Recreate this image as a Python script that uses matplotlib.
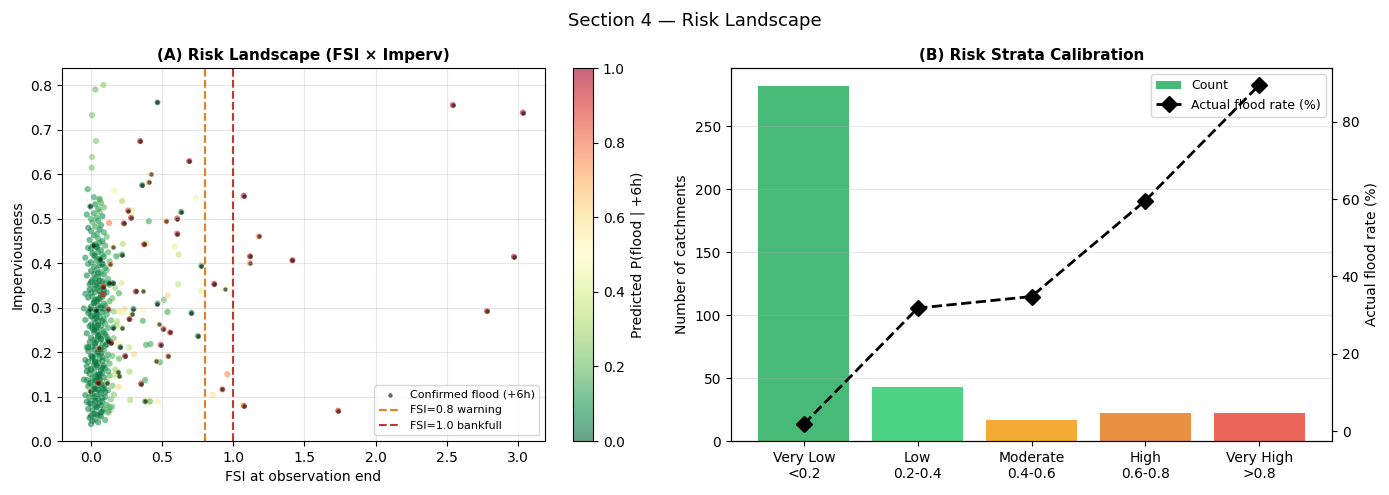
import numpy as np
import matplotlib
matplotlib.use("Agg")
import matplotlib.pyplot as plt

# ---- panel A: dense low-FSI cluster (no confirmed flood) ----
cluster_fsi = [
    0.00, 0.05, -0.01, 0.03, 0.07, 0.10, 0.02, 0.06, 0.12, 0.08,
    -0.02, 0.01, 0.04, 0.09, 0.13, 0.00, 0.03, 0.06, 0.11, -0.03,
    0.02, 0.05, 0.08, 0.14, -0.01, -0.04, 0.01, 0.04, 0.07, 0.10,
    0.16, 0.00, 0.03, 0.06, 0.12, 0.09, -0.02, 0.02, 0.05, 0.08,
    0.15, 0.00, 0.04, 0.07, 0.11, -0.03, 0.01, 0.03, 0.06, 0.09,
    0.13, -0.05, -0.01, 0.02, 0.05, 0.08, 0.12, 0.00, 0.04, 0.07,
    0.10, -0.03, 0.17, 0.02, 0.05, 0.09, 0.13, -0.02, -0.04, 0.01,
    0.03, 0.06, 0.11, 0.00, 0.04, 0.08, 0.12, 0.15, -0.02, 0.02,
    0.05, 0.09, 0.07, 0.01, 0.03, 0.06, 0.10, -0.03, -0.01, 0.04,
    0.08, 0.13, 0.02, 0.00, 0.05, 0.07, 0.11, 0.16, -0.03, 0.02,
    0.06, 0.09, 0.01, 0.04, 0.08, 0.12, -0.01, 0.00, 0.03, 0.07,
    0.10, 0.18, -0.04, 0.02, 0.05, 0.09, 0.14, 0.01, 0.04, 0.06,
    0.11, -0.02, -0.01, 0.03, 0.08, 0.12, 0.16, 0.00, 0.05, 0.07,
    0.10, -0.05, 0.02, 0.04, 0.09, 0.13, -0.02, 0.01, 0.06, 0.08,
    0.15, 0.00, 0.03, 0.07, 0.11, -0.04, 0.02, 0.05, 0.09, 0.17,
    -0.01, 0.04, 0.06, 0.10, 0.13, 0.01, 0.03, 0.08, 0.12, -0.03,
    0.02, 0.05, 0.09, 0.00, 0.04, 0.07, 0.11, 0.02, 0.06, 0.10,
    -0.02, 0.00, 0.04, 0.08, 0.13, -0.04, 0.03, 0.06, 0.09, 0.01,
    0.05, 0.08, 0.12, 0.00, 0.04, 0.07, -0.02, 0.03, 0.06, 0.10,
    -0.01, 0.05, 0.08, 0.02, 0.04, 0.11, 0.00, 0.06, 0.09, 0.03,
    0.07, -0.02, 0.01, 0.05, 0.04, 0.08, 0.00, 0.02, 0.06, -0.03,
    0.05, 0.09, 0.03, 0.07, 0.06, 0.02,
    0.01, 0.04, 0.07, -0.01, 0.02, 0.05, 0.09, 0.03, 0.06, 0.00,
    0.04, 0.08, 0.01, 0.05, -0.02, 0.03, 0.07, 0.10, 0.02, 0.05,
    0.08, 0.00, 0.04, 0.07, 0.02, 0.05, 0.09, -0.01, 0.03, 0.06,
    0.00, 0.04, 0.08, 0.02, 0.06, -0.03, 0.03, 0.07, 0.11, 0.05,
    0.01, 0.04, 0.09, 0.03, 0.06, 0.00, 0.05, 0.08, 0.02, 0.04,
    0.07, 0.03, 0.10, -0.01, 0.05, 0.08, 0.01, 0.06, 0.12, 0.04,
]
cluster_imperv = [
    0.038, 0.042, 0.052, 0.049, 0.055, 0.047, 0.061, 0.058, 0.064, 0.066,
    0.072, 0.069, 0.075, 0.071, 0.068, 0.083, 0.079, 0.086, 0.081, 0.088,
    0.092, 0.095, 0.089, 0.094, 0.098, 0.103, 0.106, 0.101, 0.108, 0.099,
    0.104, 0.112, 0.116, 0.109, 0.114, 0.118, 0.123, 0.121, 0.126, 0.119,
    0.124, 0.131, 0.135, 0.128, 0.133, 0.137, 0.142, 0.145, 0.139, 0.143,
    0.147, 0.138, 0.151, 0.155, 0.149, 0.153, 0.157, 0.162, 0.166, 0.159,
    0.164, 0.168, 0.161, 0.172, 0.175, 0.169, 0.174, 0.178, 0.182, 0.185,
    0.179, 0.186, 0.183, 0.192, 0.195, 0.189, 0.194, 0.191, 0.202, 0.205,
    0.199, 0.203, 0.208, 0.212, 0.215, 0.209, 0.214, 0.211, 0.222, 0.225,
    0.218, 0.224, 0.227, 0.232, 0.235, 0.229, 0.234, 0.231, 0.242, 0.245,
    0.239, 0.244, 0.252, 0.255, 0.249, 0.254, 0.258, 0.262, 0.265, 0.259,
    0.264, 0.261, 0.272, 0.275, 0.269, 0.274, 0.271, 0.282, 0.285, 0.279,
    0.284, 0.288, 0.292, 0.295, 0.289, 0.294, 0.291, 0.302, 0.305, 0.299,
    0.304, 0.298, 0.312, 0.315, 0.309, 0.314, 0.322, 0.325, 0.319, 0.324,
    0.321, 0.332, 0.335, 0.329, 0.334, 0.331, 0.342, 0.345, 0.339, 0.344,
    0.352, 0.355, 0.349, 0.354, 0.351, 0.362, 0.365, 0.359, 0.364, 0.372,
    0.375, 0.369, 0.374, 0.382, 0.385, 0.379, 0.384, 0.392, 0.395, 0.389,
    0.398, 0.402, 0.405, 0.399, 0.404, 0.412, 0.415, 0.409, 0.414, 0.422,
    0.425, 0.419, 0.424, 0.432, 0.435, 0.429, 0.434, 0.442, 0.445, 0.439,
    0.452, 0.455, 0.449, 0.462, 0.465, 0.459, 0.472, 0.475, 0.469, 0.482,
    0.485, 0.479, 0.492, 0.495, 0.502, 0.505, 0.499, 0.512, 0.515, 0.509,
    0.522, 0.525, 0.532, 0.535, 0.542, 0.548,
    0.045, 0.060, 0.080, 0.085, 0.100, 0.115, 0.125, 0.135, 0.150, 0.160,
    0.170, 0.180, 0.190, 0.200, 0.210, 0.220, 0.230, 0.240, 0.250, 0.260,
    0.270, 0.280, 0.290, 0.300, 0.310, 0.320, 0.330, 0.340, 0.350, 0.360,
    0.057, 0.077, 0.097, 0.117, 0.137, 0.157, 0.177, 0.197, 0.217, 0.237,
    0.257, 0.277, 0.297, 0.317, 0.337, 0.357, 0.377, 0.397, 0.417, 0.437,
    0.065, 0.090, 0.110, 0.130, 0.145, 0.165, 0.188, 0.207, 0.228, 0.248,
]
cluster_prob = [
    0.05, 0.08, 0.04, 0.10, 0.06, 0.12, 0.03, 0.07, 0.15, 0.09,
    0.06, 0.04, 0.09, 0.11, 0.18, 0.05, 0.08, 0.03, 0.13, 0.07,
    0.10, 0.05, 0.07, 0.22, 0.04, 0.06, 0.09, 0.03, 0.12, 0.08,
    0.25, 0.05, 0.07, 0.10, 0.14, 0.06, 0.08, 0.04, 0.11, 0.06,
    0.20, 0.07, 0.05, 0.09, 0.13, 0.06, 0.04, 0.08, 0.10, 0.05,
    0.16, 0.09, 0.06, 0.11, 0.04, 0.07, 0.12, 0.05, 0.08, 0.03,
    0.10, 0.07, 0.28, 0.06, 0.09, 0.05, 0.15, 0.08, 0.06, 0.04,
    0.07, 0.10, 0.13, 0.05, 0.08, 0.06, 0.11, 0.19, 0.07, 0.04,
    0.09, 0.12, 0.05, 0.06, 0.10, 0.04, 0.08, 0.11, 0.05, 0.07,
    0.06, 0.14, 0.08, 0.05, 0.09, 0.03, 0.12, 0.21, 0.06, 0.08,
    0.05, 0.10, 0.07, 0.04, 0.11, 0.13, 0.06, 0.08, 0.05, 0.09,
    0.12, 0.30, 0.07, 0.05, 0.08, 0.10, 0.17, 0.06, 0.04, 0.09,
    0.13, 0.06, 0.05, 0.09, 0.07, 0.11, 0.24, 0.08, 0.04, 0.10,
    0.12, 0.07, 0.05, 0.08, 0.10, 0.15, 0.06, 0.09, 0.04, 0.07,
    0.20, 0.06, 0.09, 0.05, 0.12, 0.08, 0.07, 0.10, 0.04, 0.27,
    0.07, 0.05, 0.09, 0.11, 0.16, 0.06, 0.08, 0.04, 0.14, 0.07,
    0.06, 0.10, 0.08, 0.05, 0.09, 0.12, 0.15, 0.07, 0.04, 0.11,
    0.08, 0.06, 0.10, 0.07, 0.18, 0.09, 0.05, 0.11, 0.08, 0.06,
    0.09, 0.12, 0.16, 0.07, 0.05, 0.10, 0.08, 0.06, 0.11, 0.13,
    0.08, 0.12, 0.07, 0.10, 0.14, 0.18, 0.09, 0.06, 0.11, 0.13,
    0.10, 0.07, 0.15, 0.09, 0.12, 0.08, 0.14, 0.11, 0.17, 0.10,
    0.13, 0.18, 0.09, 0.15, 0.20, 0.12,
    0.03, 0.02, 0.04, 0.03, 0.05, 0.02, 0.04, 0.03, 0.02, 0.04,
    0.03, 0.05, 0.02, 0.04, 0.03, 0.02, 0.04, 0.06, 0.03, 0.02,
    0.04, 0.03, 0.02, 0.05, 0.03, 0.04, 0.02, 0.03, 0.05, 0.02,
    0.02, 0.04, 0.03, 0.02, 0.05, 0.03, 0.02, 0.04, 0.06, 0.03,
    0.03, 0.02, 0.05, 0.04, 0.02, 0.03, 0.04, 0.02, 0.05, 0.03,
    0.02, 0.04, 0.03, 0.05, 0.02, 0.03, 0.04, 0.02, 0.06, 0.03,
]

# ---- panel A: scattered catchments (no confirmed flood) ----
spread_fsi = [
    0.03, 0.087, 0.007, 0.035, 0.007, 0.005, -0.023, 0.164, 0.218, 0.737,
    0.06, 0.285, 0.127, 0.406, 0.39, 0.223, 0.587, 0.615, 0.178, 0.214,
    0.197, 0.613, 0.775, 0.54, 0.512, 0.537, 0.235, 0.195, 0.368, 0.225,
    0.183, 0.364, 0.08, 0.19, 0.387, 0.418, 0.268, 0.303, 0.197, 0.484,
    0.16, 0.27, 0.38, 0.192, 0.275, 0.39, 0.40, 0.414, 0.467, 0.149,
    0.132, 0.958, 0.857, 1.06,
]
spread_imperv = [
    0.79, 0.80, 0.732, 0.674, 0.638, 0.614, 0.566, 0.563, 0.539, 0.547,
    0.544, 0.518, 0.49, 0.494, 0.444, 0.443, 0.437, 0.419, 0.415, 0.355,
    0.332, 0.352, 0.337, 0.327, 0.317, 0.29, 0.297, 0.292, 0.295, 0.288,
    0.269, 0.27, 0.329, 0.219, 0.216, 0.218, 0.21, 0.195, 0.185, 0.177,
    0.148, 0.156, 0.137, 0.122, 0.092, 0.088, 0.09, 0.089, 0.089, 0.077,
    0.076, 0.15, 0.104, 0.08,
]
spread_prob = [
    0.20, 0.25, 0.22, 0.24, 0.25, 0.23, 0.12, 0.45, 0.30, 0.45,
    0.15, 0.38, 0.78, 0.15, 0.35, 0.32, 0.58, 0.35, 0.12, 0.38,
    0.15, 0.35, 0.42, 0.62, 0.20, 0.15, 0.62, 0.60, 0.52, 0.45,
    0.32, 0.15, 0.90, 0.55, 0.15, 0.15, 0.35, 0.62, 0.18, 0.15,
    0.35, 0.30, 0.15, 0.62, 0.30, 0.35, 0.50, 0.18, 0.55, 0.20,
    0.15, 0.75, 0.60, 0.55,
]

# ---- panel A: confirmed flood catchments ----
flood_fsi = [
    0.467, 0.345, 0.69, 0.418, 0.404, 0.359, -0.005, 0.26, 0.282, 0.23,
    0.634, 0.606, 0.53, 0.606, 0.373, 0.157, 0.014, 0.218, 0.775, 0.136,
    0.061, 0.153, 0.125, 0.087, 0.315, 0.368, 0.467, 0.706, 0.298, 0.291,
    0.122, -0.007, 0.033, 0.27, 0.479, 0.509, 0.556, 0.751, 0.157, 0.218,
    0.117, 0.141, 0.49, 0.206, 0.058, 0.239, 0.46, 0.542, 0.19, 0.20,
    0.051, 0.113, 0.352, -0.01, 0.378, 0.866, 0.939, 0.923, 1.075, 1.073,
    1.178, 1.117, 1.115, 1.415, 1.737, 2.542, 3.035, 2.972, 2.782,
]
flood_imperv = [
    0.761, 0.674, 0.629, 0.60, 0.581, 0.575, 0.527, 0.518, 0.502, 0.489,
    0.515, 0.50, 0.494, 0.466, 0.442, 0.437, 0.44, 0.419, 0.394, 0.397,
    0.408, 0.355, 0.355, 0.347, 0.336, 0.337, 0.309, 0.288, 0.297, 0.286,
    0.297, 0.297, 0.294, 0.274, 0.264, 0.252, 0.244, 0.236, 0.255, 0.254,
    0.225, 0.221, 0.216, 0.211, 0.209, 0.191, 0.18, 0.191, 0.155, 0.146,
    0.131, 0.131, 0.129, 0.113, 0.089, 0.353, 0.342, 0.116, 0.079, 0.551,
    0.46, 0.415, 0.40, 0.406, 0.068, 0.755, 0.738, 0.414, 0.292,
]
flood_prob = [
    0.15, 0.90, 0.92, 0.60, 0.70, 0.10, 0.10, 0.85, 0.90, 0.92,
    0.12, 0.88, 0.70, 0.90, 0.90, 0.60, 0.10, 0.12, 0.15, 0.70,
    0.10, 0.10, 0.12, 0.90, 0.92, 0.55, 0.12, 0.10, 0.12, 0.30,
    0.75, 0.10, 0.10, 0.92, 0.50, 0.85, 0.88, 0.12, 0.12, 0.35,
    0.10, 0.90, 0.92, 0.12, 0.70, 0.92, 0.60, 0.75, 0.30, 0.30,
    0.90, 0.35, 0.92, 0.35, 0.20, 0.95, 0.50, 0.85, 0.90, 0.95,
    0.75, 0.92, 0.70, 0.95, 0.90, 0.90, 0.95, 0.95, 0.90,
]

# ---- panel B: risk strata ----
strata_labels = ['Very Low\n<0.2', 'Low\n0.2-0.4', 'Moderate\n0.4-0.6',
                 'High\n0.6-0.8', 'Very High\n>0.8']
strata_counts = [282, 43, 17, 22, 22]
strata_rate = [1.8, 31.8, 34.8, 59.6, 89.5]
strata_colors = ['#27ae60', '#2ecc71', '#f39c12', '#e67e22', '#e74c3c']

fsi = np.array(cluster_fsi + spread_fsi + flood_fsi)
imperv = np.array(cluster_imperv + spread_imperv + flood_imperv)
prob = np.array(cluster_prob + spread_prob + flood_prob)

fig = plt.figure(figsize=(13.89, 4.95), dpi=100)
ax1 = fig.add_axes([0.0446, 0.109, 0.3477, 0.7535])
cax = fig.add_axes([0.4125, 0.109, 0.0144, 0.7535])
ax2 = fig.add_axes([0.5263, 0.109, 0.4327, 0.7535])

sc = ax1.scatter(fsi, imperv, c=prob, cmap='RdYlGn_r', vmin=0, vmax=1,
                 s=20, alpha=0.6, linewidths=0)
ax1.scatter(flood_fsi, flood_imperv, c='black', s=10, alpha=0.6,
            linewidths=0, label='Confirmed flood (+6h)')
ax1.axvline(0.8, color='#e67e22', ls='--', lw=1.5, label='FSI=0.8 warning')
ax1.axvline(1.0, color='#c0392b', ls='--', lw=1.5, label='FSI=1.0 bankfull')
ax1.set_xlabel('FSI at observation end')
ax1.set_ylabel('Imperviousness')
ax1.set_title('(A) Risk Landscape (FSI × Imperv)', fontsize=11, fontweight='bold')
ax1.grid(alpha=0.3)
ax1.legend(loc='lower right', fontsize=8)
cb = fig.colorbar(sc, cax=cax)
cb.set_label('Predicted P(flood | +6h)')

x = np.arange(len(strata_labels))
bars = ax2.bar(x, strata_counts, color=strata_colors, alpha=0.85, label='Count')
ax2.set_xticks(x)
ax2.set_xticklabels(strata_labels)
ax2.set_ylabel('Number of catchments')
ax2.grid(axis='y', alpha=0.3)
ax2.set_title('(B) Risk Strata Calibration', fontsize=11, fontweight='bold')
ax3 = ax2.twinx()
ln, = ax3.plot(x, strata_rate, 'k--D', lw=2, markersize=8,
               label='Actual flood rate (%)')
ax3.set_ylabel('Actual flood rate (%)')
ax2.legend([bars, ln], ['Count', 'Actual flood rate (%)'], loc='upper right', fontsize=9)

fig.suptitle('Section 4 — Risk Landscape', fontsize=13, y=0.975)
fig.savefig('out.png', dpi=100)
